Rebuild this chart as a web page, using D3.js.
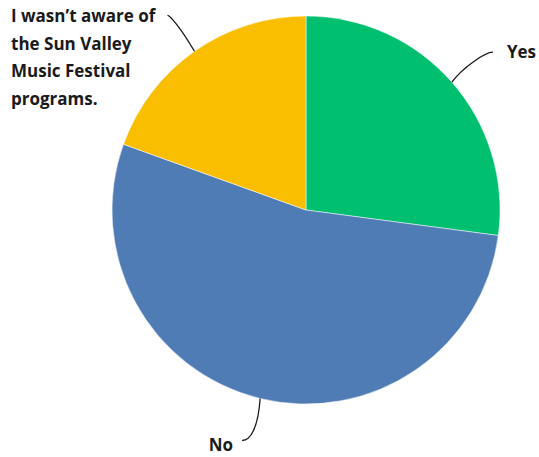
<!DOCTYPE html>
<html lang="en">
<head>
    <meta charset="UTF-8">
    <title>Sun Valley Music Festival awareness</title>
    <script src="https://cdnjs.cloudflare.com/ajax/libs/d3/7.8.5/d3.min.js"></script>
    <style>
        body {
            margin: 0;
            background: #ffffff;
        }
        .label {
            font-family: 'Open Sans', sans-serif;
            font-weight: 700;
            font-size: 17px;
            fill: #1a1a1a;
        }
        .connector {
            fill: none;
            stroke: #1a1a1a;
            stroke-width: 1.3px;
        }
    </style>
</head>
<body>
    <div id="chart"></div>
    <script>
        // answers (percent)
        const categories = ["Yes", "No", "I wasn't aware of the Sun Valley Music Festival programs."];
        const values = [27.1, 53.4, 19.5];
        const colors = ["#00BF6F", "#507CB6", "#F9BE00"];
        // wrapped label lines for each slice
        const labelLines = [
            ["Yes"],
            ["No"],
            ["I wasn\u2019t aware of", "the Sun Valley", "Music Festival", "programs."]
        ];

        const width = 539;
        const height = 457;
        const cx = 306, cy = 210, radius = 194;

        const svg = d3.select("#chart")
            .append("svg")
            .attr("width", width)
            .attr("height", height);

        const g = svg.append("g")
            .attr("transform", `translate(${cx},${cy})`);

        const pie = d3.pie().sort(null).value(d => d.value);
        const arc = d3.arc().innerRadius(0).outerRadius(radius);

        const data = categories.map((c, i) => ({
            name: c, value: values[i], color: colors[i], lines: labelLines[i]
        }));
        const arcs = pie(data);

        g.selectAll("path.slice")
            .data(arcs)
            .enter().append("path")
            .attr("class", "slice")
            .attr("d", arc)
            .attr("fill", d => d.data.color)
            .attr("stroke", "#fff")
            .attr("stroke-width", 0.5);

        // connector offsets (end point relative to slice edge) and label placement
        const layout = [
            { dx: 41, dy: -30, c1: [10, -14], lx: 14, ly: 6, anchor: "start" },
            { dx: -18, dy: 42, c1: [-2, 30], lx: -9, ly: 11, anchor: "end" },
            { dx: -27, dy: -36, c1: [-14, -24], lx: -27, ly: 7, anchor: "end" }
        ];

        arcs.forEach((d, i) => {
            const mid = (d.startAngle + d.endAngle) / 2;
            const sx = Math.sin(mid) * radius;
            const sy = -Math.cos(mid) * radius;
            const L = layout[i];
            const ex = sx + L.dx, ey = sy + L.dy;

            const p = d3.path();
            p.moveTo(sx, sy);
            p.bezierCurveTo(sx + L.c1[0], sy + L.c1[1], ex - (L.anchor === "start" ? 8 : -8) * (i === 2 ? 0.3 : 1), ey, ex, ey);
            g.append("path")
                .attr("class", "connector")
                .attr("d", p.toString());

            if (i === 2) {
                // multiline label sits to the upper left
                const t = svg.append("text")
                    .attr("class", "label")
                    .attr("x", 11)
                    .attr("y", 22);
                d.data.lines.forEach((line, k) => {
                    t.append("tspan")
                        .attr("x", 11)
                        .attr("dy", k === 0 ? 0 : 27.6)
                        .text(line);
                });
            } else {
                g.append("text")
                    .attr("class", "label")
                    .attr("x", ex + L.lx)
                    .attr("y", ey + L.ly)
                    .attr("text-anchor", L.anchor)
                    .text(d.data.lines[0]);
            }
        });
    </script>
</body>
</html>
